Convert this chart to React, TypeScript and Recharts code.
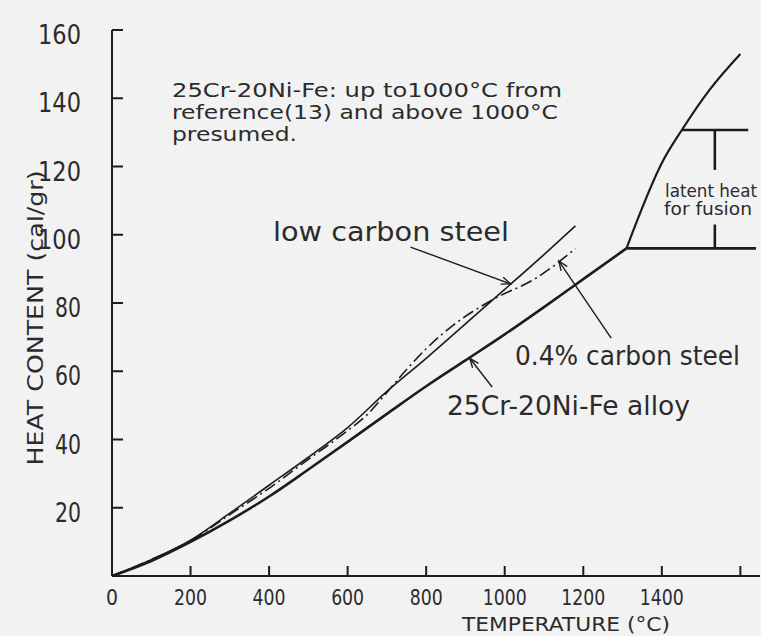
import React from 'react';
import { LineChart, Line, XAxis, YAxis, ReferenceLine } from 'recharts';

// Temperature axis (°C)
const temperatureTicks = [0, 200, 400, 600, 800, 1000, 1200, 1400, 1600];
const temperatureTickLabels = ['0', '200', '400', '600', '800', '1000', '1200', '1400', ''];

// Heat content axis (cal/gr)
const heatTicks = [20, 40, 60, 80, 100, 120, 140, 160];
const heatTickLabels = ['20', '40', '60', '80', '100', '120', '140', '160'];

// 25Cr-20Ni-Fe alloy, solid state up to the onset of melting
const alloySolidTemp = [0, 100, 200, 300, 400, 500, 600, 700, 800, 900, 1000, 1100, 1200, 1310];
const alloySolidHeat = [0, 4.4, 10, 16.3, 23.3, 31.2, 39.3, 47.5, 55.6, 63.2, 70.8, 78.8, 87, 96];

// 25Cr-20Ni-Fe alloy, melting range and liquid (presumed above 1000 °C)
const alloyMeltTemp = [1310, 1404, 1451, 1521, 1600];
const alloyMeltHeat = [96, 121.9, 130.7, 142.4, 153];

// low carbon steel
const lowCarbonTemp = [0, 100, 200, 300, 400, 500, 600, 700, 800, 900, 1000, 1100, 1180];
const lowCarbonHeat = [0, 4.8, 10.5, 18.4, 26.6, 34.8, 43.5, 54.1, 63.8, 73.9, 84, 94.2, 102.6];

// 0.4% carbon steel
const mediumCarbonTemp = [0, 100, 200, 300, 400, 500, 600, 650, 700, 750, 800, 870, 970, 1080, 1180];
const mediumCarbonHeat = [0, 4.8, 10.3, 18, 25.7, 34.2, 42.6, 47.3, 53.8, 60.5, 66.6, 73.6, 81, 87.3, 95.9];

// latent heat of fusion bracket
const fusionStartTemp = 1310;
const fusionLowerHeat = 96;
const fusionUpperTemp = 1451;
const fusionUpperHeat = 130.7;
const bracketTemp = 1535;
const bracketLowerEnd = 1640;
const bracketUpperEnd = 1620;

// label pointers: [tail, tip] in (°C, cal/gr)
const lowCarbonPointer = [{ x: 760, y: 96.4 }, { x: 1015, y: 85.6 }];
const mediumCarbonPointer = [{ x: 1271, y: 69.7 }, { x: 1138, y: 92.3 }];
const alloyPointer = [{ x: 968, y: 55.4 }, { x: 911, y: 63.8 }];

const zip = (ts: number[], hs: number[]) => ts.map((t, i) => ({ t, h: hs[i] }));

const alloySolid = zip(alloySolidTemp, alloySolidHeat);
const alloyMelt = zip(alloyMeltTemp, alloyMeltHeat);
const lowCarbon = zip(lowCarbonTemp, lowCarbonHeat);
const mediumCarbon = zip(mediumCarbonTemp, mediumCarbonHeat);

const INK = '#1c1c1c';
const TEXT = '#2b2b2b';
const FONT = '"DejaVu Sans", sans-serif';

const TemperatureTick = (props: any) => {
  const { x, y, payload, index } = props;
  const label = temperatureTickLabels[index] ?? String(payload.value);
  return (
    <g>
      <line x1={x} y1={y} x2={x} y2={y - 10} stroke={INK} strokeWidth={2} />
      {label ? (
        <text
          x={x}
          y={y + 29}
          textAnchor="middle"
          fontFamily={FONT}
          fontSize={21}
          fill={TEXT}
          textLength={label.length === 1 ? 12 : label.length * 11}
          lengthAdjust="spacingAndGlyphs"
        >
          {label}
        </text>
      ) : null}
    </g>
  );
};

const HeatTick = (props: any) => {
  const { x, y, index } = props;
  const label = heatTickLabels[index] ?? '';
  return (
    <g>
      <line x1={x} y1={y} x2={x + 11} y2={y} stroke={INK} strokeWidth={2} />
      <text
        x={x - 31}
        y={y + 14}
        textAnchor="end"
        fontFamily={FONT}
        fontSize={26}
        fill={TEXT}
        textLength={label.length === 3 ? 43 : 26}
        lengthAdjust="spacingAndGlyphs"
      >
        {label}
      </text>
    </g>
  );
};

const PointerShape = (props: any) => {
  const { x1, y1, x2, y2 } = props;
  const ang = Math.atan2(y2 - y1, x2 - x1);
  const len = 10;
  const spread = 0.38;
  const ax = x2 - len * Math.cos(ang - spread);
  const ay = y2 - len * Math.sin(ang - spread);
  const bx = x2 - len * Math.cos(ang + spread);
  const by = y2 - len * Math.sin(ang + spread);
  return (
    <g stroke={INK} strokeWidth={1.4} fill="none">
      <line x1={x1} y1={y1} x2={x2} y2={y2} />
      <polyline points={`${ax},${ay} ${x2},${y2} ${bx},${by}`} />
    </g>
  );
};

const Txt = ({ x, y, size, len, children }: any) => (
  <text
    x={x}
    y={y}
    fontFamily={FONT}
    fontSize={size}
    fill={TEXT}
    textLength={len}
    lengthAdjust={len ? 'spacingAndGlyphs' : undefined}
  >
    {children}
  </text>
);

export default function App() {
  return (
    <div
      style={{
        position: 'absolute',
        left: 0,
        top: 0,
        width: 761,
        height: 636,
        background: '#f2f2f2',
        overflow: 'hidden',
      }}
    >
      <LineChart width={761} height={636} margin={{ top: 30, right: 1, bottom: 30, left: 62 }}>
        <XAxis
          type="number"
          dataKey="t"
          domain={[0, 1650]}
          ticks={temperatureTicks}
          interval={0}
          height={30}
          tickSize={0}
          tickMargin={0}
          tickLine={false}
          tick={<TemperatureTick />}
          axisLine={{ stroke: INK, strokeWidth: 2 }}
        />
        <YAxis
          type="number"
          dataKey="h"
          domain={[0, 160]}
          ticks={heatTicks}
          interval={0}
          width={50}
          tickSize={0}
          tickMargin={0}
          tickLine={false}
          tick={<HeatTick />}
          axisLine={{ stroke: INK, strokeWidth: 2 }}
        />

        <Line data={lowCarbon} dataKey="h" type="monotone" stroke={INK} strokeWidth={1.6} dot={false} isAnimationActive={false} />
        <Line
          data={mediumCarbon}
          dataKey="h"
          type="monotone"
          stroke={INK}
          strokeWidth={1.6}
          strokeDasharray="12 4 2 4"
          dot={false}
          isAnimationActive={false}
        />
        <Line data={alloySolid} dataKey="h" type="monotone" stroke={INK} strokeWidth={2.6} dot={false} isAnimationActive={false} />
        <Line data={alloyMelt} dataKey="h" type="monotone" stroke={INK} strokeWidth={2.2} dot={false} isAnimationActive={false} />

        {/* latent heat for fusion bracket */}
        <ReferenceLine
          segment={[{ x: fusionStartTemp, y: fusionLowerHeat }, { x: bracketLowerEnd, y: fusionLowerHeat }]}
          stroke={INK}
          strokeWidth={2.6}
        />
        <ReferenceLine
          segment={[{ x: fusionUpperTemp, y: fusionUpperHeat }, { x: bracketUpperEnd, y: fusionUpperHeat }]}
          stroke={INK}
          strokeWidth={2.6}
        />
        <ReferenceLine
          segment={[{ x: bracketTemp, y: fusionUpperHeat }, { x: bracketTemp, y: 119 }]}
          stroke={INK}
          strokeWidth={2.6}
        />
        <ReferenceLine
          segment={[{ x: bracketTemp, y: 103 }, { x: bracketTemp, y: fusionLowerHeat }]}
          stroke={INK}
          strokeWidth={2.6}
        />

        {/* label pointers */}
        <ReferenceLine segment={lowCarbonPointer} shape={(p: any) => <PointerShape {...p} />} />
        <ReferenceLine segment={mediumCarbonPointer} shape={(p: any) => <PointerShape {...p} />} />
        <ReferenceLine segment={alloyPointer} shape={(p: any) => <PointerShape {...p} />} />
      </LineChart>

      <svg
        width={761}
        height={636}
        style={{ position: 'absolute', left: 0, top: 0, pointerEvents: 'none' }}
      >
        <Txt x={172} y={97} size={19} len={390}>25Cr-20Ni-Fe: up to1000°C from</Txt>
        <Txt x={172} y={119} size={19} len={386}>reference(13) and above 1000°C</Txt>
        <Txt x={172} y={141} size={19} len={125}>presumed.</Txt>

        <Txt x={273} y={241} size={27} len={236}>low carbon steel</Txt>
        <Txt x={515} y={365} size={26} len={225}>0.4% carbon steel</Txt>
        <Txt x={447} y={415} size={26} len={243}>25Cr-20Ni-Fe alloy</Txt>

        <Txt x={665} y={197} size={17} len={92}>latent heat</Txt>
        <Txt x={664} y={215} size={17} len={88}>for fusion</Txt>

        <Txt x={462} y={631} size={20} len={208}>TEMPERATURE (°C)</Txt>

        <text
          x={0}
          y={0}
          transform="translate(43 318) rotate(-90)"
          textAnchor="middle"
          fontFamily={FONT}
          fontSize={21}
          fill={TEXT}
          textLength={295}
          lengthAdjust="spacingAndGlyphs"
        >
          HEAT CONTENT (cal/gr)
        </text>
      </svg>
    </div>
  );
}
